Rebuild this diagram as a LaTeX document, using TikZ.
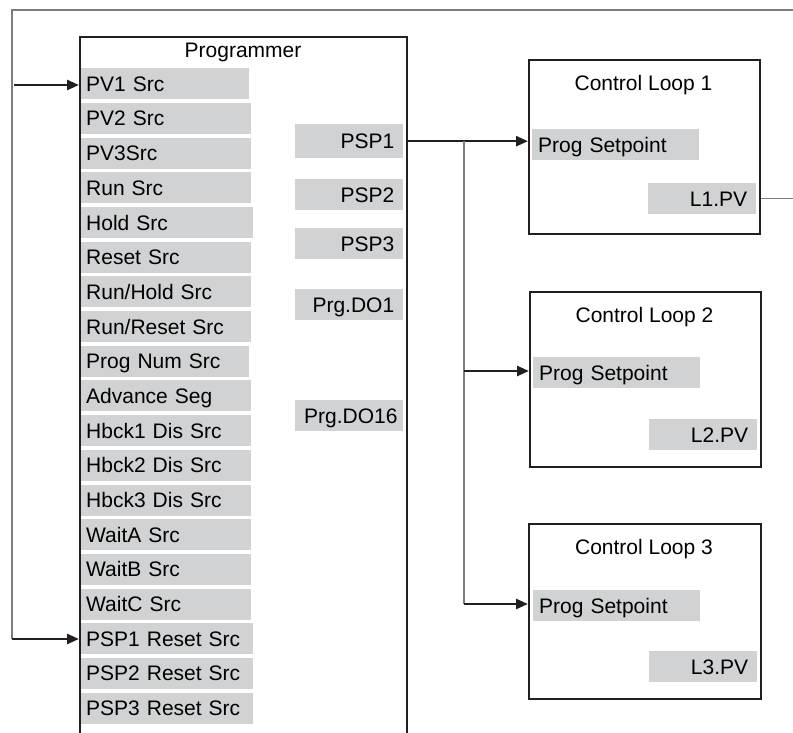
\documentclass[tikz,border=0pt]{standalone}
\usepackage{fontspec}
\setmainfont{Liberation Sans}
\usetikzlibrary{arrows.meta}
\definecolor{cellgray}{RGB}{209,210,212}
\definecolor{linedark}{RGB}{35,31,32}
\definecolor{wiregray}{RGB}{125,125,125}
\begin{document}
\begin{tikzpicture}[x=1pt,y=-1pt,
  txt/.style={font=\fontsize{21}{24}\selectfont, inner sep=0pt},
  cell/.style={txt, fill=cellgray, anchor=north west, minimum height=31pt,
    text height=15pt, text depth=0pt},
  lcell/.style={cell, inner xsep=5pt, text width=#1-10pt, align=left},
  rcell/.style={cell, inner xsep=9pt, text width=#1-18pt, align=right},
  box/.style={draw=linedark, line width=2pt, anchor=north west, inner sep=0pt},
  arrowline/.style={draw=linedark, line width=2.6pt, -{Triangle[length=12pt,width=10pt]}},
  wire/.style={draw=wiregray, line width=1.4pt}]
\useasboundingbox (0,0) rectangle (793,733);
\clip (0,0) rectangle (793,733);

% Programmer block (continues below the page)
\node[box, minimum width=327pt, minimum height=740pt] (prog) at (79,36) {};
\node[txt] (progtitle) at (243,52) {Programmer};

% input cells
\node[lcell=168pt] (r1)  at (81,68.0)  {PV1 Src};
\node[lcell=170pt] (r2)  at (81,102.7) {PV2 Src};
\node[lcell=170pt] (r3)  at (81,137.4) {PV3Src};
\node[lcell=170pt] (r4)  at (81,172.1) {Run Src};
\node[lcell=172pt] (r5)  at (81,206.8) {Hold Src};
\node[lcell=170pt] (r6)  at (81,241.5) {Reset Src};
\node[lcell=170pt] (r7)  at (81,276.1) {Run/Hold Src};
\node[lcell=170pt] (r8)  at (81,310.8) {Run/Reset Src};
\node[lcell=168pt] (r9)  at (81,345.5) {Prog Num Src};
\node[lcell=170pt] (r10) at (81,380.2) {Advance Seg};
\node[lcell=170pt] (r11) at (81,414.9) {Hbck1 Dis Src};
\node[lcell=170pt] (r12) at (81,449.6) {Hbck2 Dis Src};
\node[lcell=170pt] (r13) at (81,484.3) {Hbck3 Dis Src};
\node[lcell=170pt] (r14) at (81,519.0) {WaitA Src};
\node[lcell=170pt] (r15) at (81,553.7) {WaitB Src};
\node[lcell=170pt] (r16) at (81,588.4) {WaitC Src};
\node[lcell=172pt] (r17) at (81,623.0) {PSP1 Reset Src};
\node[lcell=172pt] (r18) at (81,657.7) {PSP2 Reset Src};
\node[lcell=172pt] (r19) at (81,692.4) {PSP3 Reset Src};

% output cells
\node[rcell=108pt, minimum height=34pt] (psp1) at (295,124) {PSP1};
\node[rcell=108pt] (psp2) at (295,179) {PSP2};
\node[rcell=108pt] (psp3) at (295,228) {PSP3};
\node[rcell=108pt] (do1)  at (295,289) {Prg.DO1};
\node[rcell=108pt] (do16) at (295,400) {Prg.DO16};

% control loops
\node[box, minimum width=231pt, minimum height=174pt] (loop1) at (528,59) {};
\node[txt] (t1) at (643.5,85) {Control Loop 1};
\node[lcell=165pt, inner xsep=6pt] (sp1) at (532,129) {Prog Setpoint};
\node[rcell=108pt] (lpv1) at (648,183) {L1.PV};

\node[box, minimum width=231pt, minimum height=175pt] (loop2) at (529,291) {};
\node[txt] (t2) at (644.5,317) {Control Loop 2};
\node[lcell=165pt, inner xsep=6pt] (sp2) at (533,357) {Prog Setpoint};
\node[rcell=108pt] (lpv2) at (649,419) {L2.PV};

\node[box, minimum width=232pt, minimum height=175pt] (loop3) at (528,523) {};
\node[txt] (t3) at (644,549) {Control Loop 3};
\node[lcell=165pt, inner xsep=6pt] (sp3) at (533,590) {Prog Setpoint};
\node[rcell=108pt] (lpv3) at (649,651) {L3.PV};

% connector coordinates
\coordinate (in1) at (14,85);
\coordinate (fbR) at (793,10);
\coordinate (fbL) at (12,10);
\coordinate (fbB) at (12,639);
\coordinate (j1) at (464,141);
\coordinate (j2) at (464,371);
\coordinate (j3) at (464,604);

% connectors
\draw[wire] (fbR) -- (fbL) -- (fbB);
\draw[arrowline] (fbB) -- (fbB -| prog.west);
\draw[arrowline] (in1) -- (in1 -| prog.west);
\draw[arrowline] (psp1.east -| prog.east) -- (psp1.east -| loop1.west);
\draw[wire] (j1) -- (j3);
\draw[arrowline] (j2) -- (j2 -| loop2.west);
\draw[arrowline] (j3) -- (j3 -| loop3.west);
\draw[wire] (lpv1.east -| loop1.east) -- (lpv1.east -| fbR);
\end{tikzpicture}
\end{document}
